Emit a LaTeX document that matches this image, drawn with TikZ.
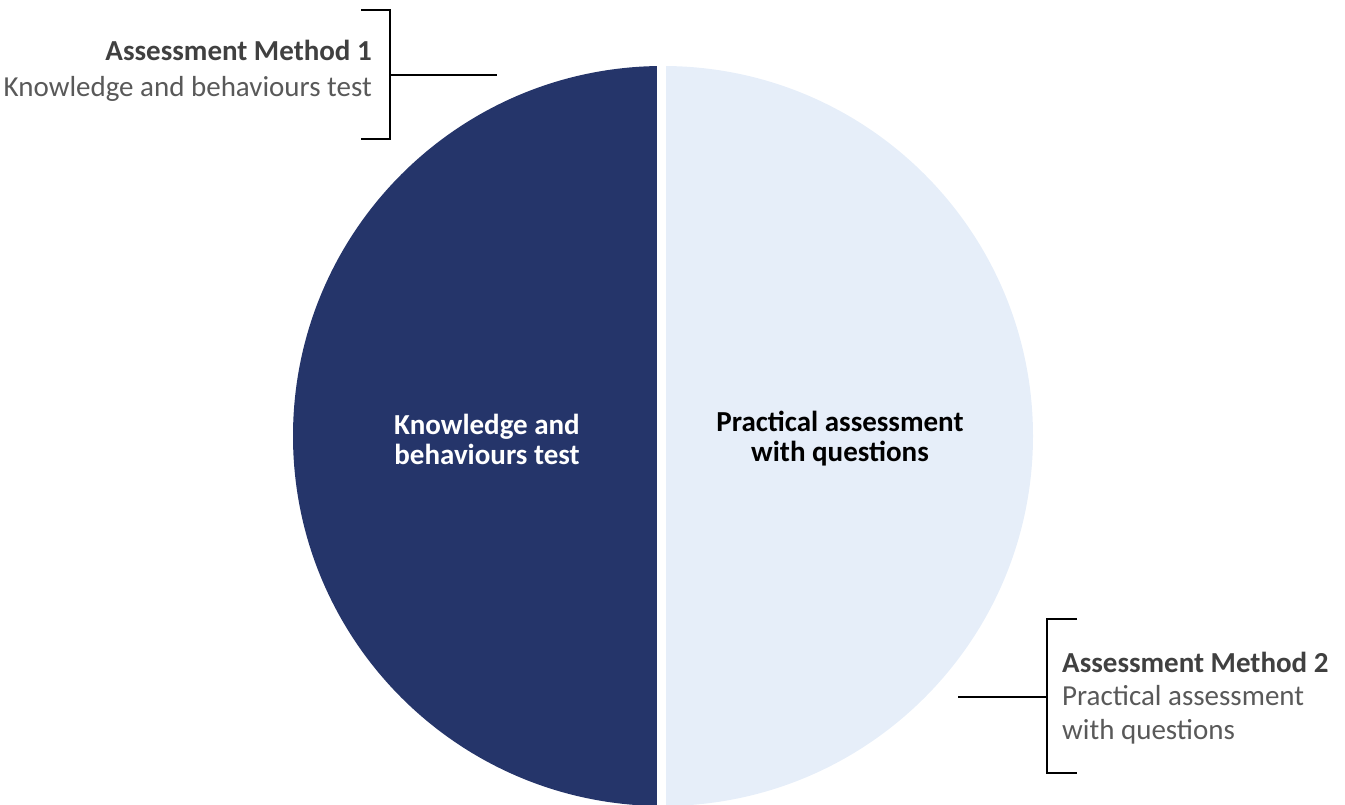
\documentclass[tikz,border=0pt]{standalone}
\usepackage{fontspec}
\setmainfont{Carlito}
\usetikzlibrary{positioning}
\definecolor{navy}{HTML}{25356A}
\definecolor{paleblue}{HTML}{E6EEF9}
\definecolor{headgrey}{HTML}{404040}
\definecolor{subgrey}{HTML}{595959}
\tikzset{
inlabel/.style = {align=center, font=\bfseries\fontsize{29}{30}\selectfont},
headlabel/.style = {text=headgrey, font=\bfseries\fontsize{29}{36}\selectfont, inner sep=0pt},
sublabel/.style = {text=subgrey, font=\fontsize{29}{36}\selectfont, inner sep=0pt},
bracket/.style = {draw=black, line width=2.8pt},
gap/.style = {draw=white, line width=9pt}
}

\begin{document}
\begin{tikzpicture}[x=1pt, y=-1pt]
    \useasboundingbox (0,0) rectangle (1345,805);
    % the two halves of the disc
    \coordinate (c) at (663,436);
    \begin{scope}
        \clip (0,0) rectangle (663,805);
        \fill [navy] (c) circle (370);
    \end{scope}
    \begin{scope}
        \clip (663,0) rectangle (1345,805);
        \fill [paleblue] (c) circle (370);
    \end{scope}
    \coordinate (gtop) at (661.5,60);
    \coordinate (gbot) at (661.5,805);
    \draw [gap] (gtop) -- (gbot);

    % labels inside
    \node [inlabel, text=white] (left) at (487,439) {Knowledge and\\behaviours test};
    \node [inlabel, text=black] (right) at (840,439) {Practical assessment\\with questions};

    % method 1
    \node [headlabel, anchor=base east] (m1) at (372,61) {Assessment Method 1};
    \node [sublabel, anchor=base east] (m1t) at (372,97) {Knowledge and behaviours test};
    \coordinate (a1) at (361,10);
    \coordinate (a2) at (390,10);
    \coordinate (a3) at (390,139);
    \coordinate (a4) at (361,139);
    \coordinate (a5) at (390,75);
    \coordinate (a6) at (497,75);
    \draw [bracket] (a1) -- (a2) -- (a3) -- (a4);
    \draw [bracket] (a5) -- (a6);

    % method 2
    \node [headlabel, anchor=base west] (m2) at (1062,672) {Assessment Method 2};
    \node [sublabel, anchor=base west] (m2t) at (1062,705) {Practical assessment};
    \node [sublabel, anchor=base west] (m2u) at (1062,739) {with questions};
    \coordinate (b1) at (1077,619);
    \coordinate (b2) at (1047,619);
    \coordinate (b3) at (1047,773);
    \coordinate (b4) at (1077,773);
    \coordinate (b5) at (1047,697);
    \coordinate (b6) at (958,697);
    \draw [bracket] (b1) -- (b2) -- (b3) -- (b4);
    \draw [bracket] (b5) -- (b6);
\end{tikzpicture}
\end{document}
